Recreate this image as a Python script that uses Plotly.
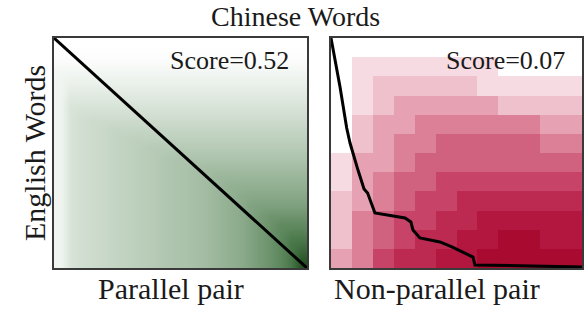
import plotly.graph_objects as go

W, H = 584, 309

# ---- Left panel (parallel pair): per-column and per-row similarity levels
par_col_levels = [0.08, 0.22, 0.26, 0.28, 0.30, 0.32, 0.34, 0.36, 0.38, 0.40, 0.42, 0.44,
                  0.45, 0.47, 0.49, 0.52, 0.55, 0.58, 0.62, 0.66, 0.70, 0.75, 0.82, 0.95]
par_row_levels = [0.00, 0.01, 0.03, 0.07, 0.11, 0.16, 0.20, 0.24, 0.28, 0.32, 0.36, 0.40,
                  0.44, 0.48, 0.52, 0.56, 0.60, 0.64, 0.69, 0.74, 0.79, 0.84, 0.90, 0.97]
par_matrix = [[min(r, c) for c in par_col_levels] for r in par_row_levels]
par_path_x = [0, 24]
par_path_y = [0, 24]

# ---- Right panel (non-parallel pair): block levels (rows top->bottom, cols left->right)
non_matrix = [
    [0, 0, 0, 0, 0, 0, 0, 0, 0, 0, 0, 0],
    [0, 1, 1, 1, 1, 1, 1, 1, 0, 0, 0, 0],
    [0, 1, 2, 2, 2, 2, 2, 1, 1, 1, 1, 1],
    [0, 1, 2, 3, 3, 3, 3, 3, 2, 2, 2, 2],
    [0, 2, 3, 3, 4, 4, 4, 4, 4, 4, 3, 3],
    [0, 2, 3, 4, 4, 5, 5, 5, 5, 5, 4, 4],
    [1, 3, 3, 4, 5, 5, 5, 5, 5, 5, 5, 5],
    [1, 3, 4, 5, 5, 6, 6, 6, 6, 6, 6, 6],
    [2, 3, 4, 5, 6, 6, 7, 7, 7, 7, 7, 7],
    [2, 4, 5, 6, 6, 7, 7, 8, 8, 8, 8, 8],
    [2, 4, 5, 6, 7, 7, 8, 8, 9, 9, 8, 8],
    [3, 4, 6, 7, 7, 8, 8, 9, 9, 9, 9, 9],
]
non_path_x = [0, 0.43, 0.75, 0.91, 1.29, 1.58, 1.75, 2.10, 3.54, 3.82, 3.92, 4.25, 5.21, 5.78, 6.79, 6.88, 12]
non_path_y = [0, 2.54, 4.70, 5.48, 6.89, 7.88, 8.09, 9.13, 9.39, 9.60, 10.02, 10.43, 10.64, 10.90, 11.43, 11.84, 11.95]

title_text = "Chinese Words"
ylabel_text = "English Words"
panel_labels = ["Parallel pair", "Non-parallel pair"]
scores = ["Score=0.52", "Score=0.07"]

green_scale = [[0, '#ffffff'], [0.2, '#dde7dd'], [0.4, '#b6cab6'], [0.6, '#88a888'],
               [0.8, '#4f7c4f'], [1, '#164616']]
red_cols = ['#ffffff', '#f6dbe2', '#efc1cd', '#e6a1b3', '#dc8098', '#d1627f',
            '#c74468', '#bc2a52', '#b3173f', '#a90a30']
red_scale = [[k / 9, c] for k, c in enumerate(red_cols)]

npar = len(par_col_levels)
nnon = len(non_matrix[0])

fig = go.Figure()
fig.add_trace(go.Heatmap(z=par_matrix, x=list(range(npar + 1)), y=list(range(len(par_row_levels) + 1)),
                         colorscale=green_scale, zmin=0, zmax=1, showscale=False, zsmooth='best',
                         xaxis='x', yaxis='y', hoverinfo='skip'))
fig.add_trace(go.Scatter(x=par_path_x, y=par_path_y, mode='lines',
                         line=dict(color='black', width=3), xaxis='x', yaxis='y',
                         showlegend=False, hoverinfo='skip'))
fig.add_trace(go.Heatmap(z=non_matrix, x=list(range(nnon + 1)), y=list(range(len(non_matrix) + 1)),
                         colorscale=red_scale, zmin=0, zmax=9, showscale=False,
                         xaxis='x2', yaxis='y2', hoverinfo='skip'))
fig.add_trace(go.Scatter(x=non_path_x, y=non_path_y, mode='lines',
                         line=dict(color='black', width=3), xaxis='x2', yaxis='y2',
                         showlegend=False, hoverinfo='skip'))

def px_x(p):
    return p / W

def px_y(p):
    return 1 - p / H

ax_common = dict(showticklabels=False, ticks='', showgrid=False, zeroline=False,
                 showline=True, mirror=True, linecolor='#3a3a3a', linewidth=2)
ydom = [px_y(268), px_y(38)]
fig.update_layout(
    width=W, height=H, margin=dict(l=0, r=0, t=0, b=0),
    paper_bgcolor='white', plot_bgcolor='white', showlegend=False,
    xaxis=dict(domain=[px_x(54), px_x(307)], range=[0, npar], **ax_common),
    yaxis=dict(domain=ydom, range=[len(par_row_levels), 0], **ax_common),
    xaxis2=dict(domain=[px_x(331), px_x(582)], range=[0, nnon], anchor='y2', **ax_common),
    yaxis2=dict(domain=ydom, range=[len(non_matrix), 0], anchor='x2', **ax_common),
)

font = dict(family='Liberation Serif, Times New Roman, serif', color='#1a1a1a')
ann = []
ann.append(dict(text=title_text, x=px_x(295), y=px_y(16.5), xref='paper', yref='paper',
                xanchor='center', yanchor='middle', showarrow=False, font=dict(size=28, **font)))
ann.append(dict(text=ylabel_text, x=px_x(34), y=px_y(153), xref='paper', yref='paper',
                xanchor='center', yanchor='middle', textangle=-90, showarrow=False,
                font=dict(size=30, **font)))
ann.append(dict(text=panel_labels[0], x=px_x(171), y=px_y(288), xref='paper', yref='paper',
                xanchor='center', yanchor='middle', showarrow=False, font=dict(size=30, **font)))
ann.append(dict(text=panel_labels[1], x=px_x(436.5), y=px_y(288), xref='paper', yref='paper',
                xanchor='center', yanchor='middle', showarrow=False, font=dict(size=30, **font)))
ann.append(dict(text=scores[0], x=px_x(291), y=px_y(60), xref='paper', yref='paper',
                xanchor='right', yanchor='middle', showarrow=False, font=dict(size=26, **font)))
ann.append(dict(text=scores[1], x=px_x(567), y=px_y(60), xref='paper', yref='paper',
                xanchor='right', yanchor='middle', showarrow=False, font=dict(size=26, **font)))
fig.update_layout(annotations=ann)

fig.write_html("out.html", config={'displayModeBar': False},
               post_script="document.body.style.margin='0px';")
